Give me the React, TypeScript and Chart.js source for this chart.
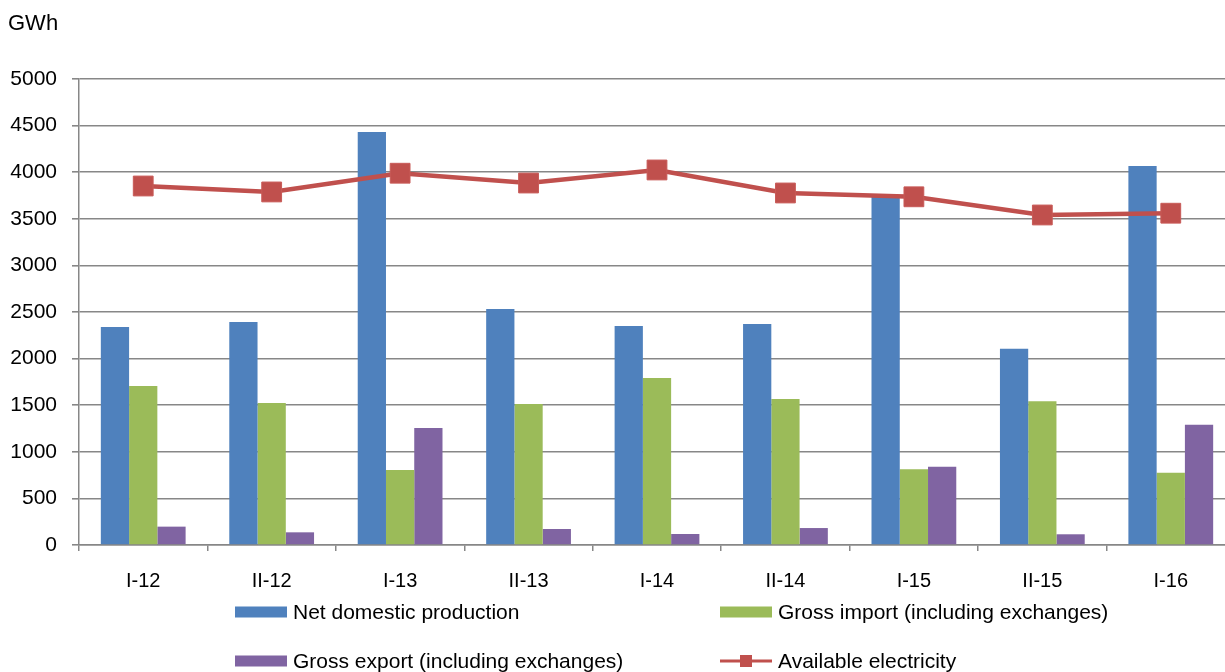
import React, { useEffect, useRef } from "react";
import { Chart, registerables } from "chart.js";

Chart.register(...registerables);

const categories = ["I-12", "II-12", "I-13", "II-13", "I-14", "II-14", "I-15", "II-15", "I-16"];
const netDomesticProduction = [2339, 2393, 4431, 2532, 2350, 2371, 3734, 2106, 4066];
const grossImport = [1706, 1524, 805, 1513, 1792, 1567, 812, 1542, 776];
const grossExport = [197, 136, 1255, 172, 118, 182, 840, 115, 1291];
const availableElectricity = [3852, 3788, 3989, 3884, 4024, 3777, 3736, 3541, 3560];
const yTickValues = [0, 500, 1000, 1500, 2000, 2500, 3000, 3500, 4000, 4500, 5000];
const unitLabel = "GWh";
const seriesNames = [
  "Net domestic production",
  "Gross import (including exchanges)",
  "Gross export (including exchanges)",
  "Available electricity",
];

const FONT = "'Liberation Sans', Arial, sans-serif";
const GRID = "#878787";

const legendPlugin = {
  id: "customLegend",
  afterDraw(chart: any) {
    const ctx = chart.ctx;
    const cols = [235, 720];
    const rows = [612, 661];
    ctx.save();
    chart.data.datasets.forEach((d: any, i: number) => {
      const x = cols[i % 2];
      const y = rows[Math.floor(i / 2)];
      if (d.type === "line") {
        ctx.strokeStyle = d.borderColor;
        ctx.lineWidth = 3;
        ctx.beginPath();
        ctx.moveTo(x, y);
        ctx.lineTo(x + 52, y);
        ctx.stroke();
        ctx.fillStyle = d.backgroundColor;
        ctx.fillRect(x + 26 - 6, y - 6, 12, 12);
      } else {
        ctx.fillStyle = d.backgroundColor;
        ctx.fillRect(x, y - 5.5, 52, 11);
      }
      ctx.fillStyle = "#000";
      ctx.font = `21px ${FONT}`;
      ctx.textBaseline = "middle";
      ctx.textAlign = "left";
      ctx.fillText(d.label, x + 58, y + 1);
    });
    ctx.font = `22px ${FONT}`;
    ctx.textBaseline = "middle";
    ctx.fillStyle = "#000";
    ctx.fillText(unitLabel, 8, 24);
    ctx.restore();
  },
};

export default function App() {
  const canvasRef = useRef<HTMLCanvasElement | null>(null);

  useEffect(() => {
    const canvas = canvasRef.current;
    if (!canvas) return;
    const chart = new Chart(canvas, {
      type: "bar",
      data: {
        labels: categories,
        datasets: [
          {
            type: "bar",
            label: seriesNames[0],
            data: netDomesticProduction,
            backgroundColor: "#4F81BD",
            order: 1,
          },
          {
            type: "bar",
            label: seriesNames[1],
            data: grossImport,
            backgroundColor: "#9BBB59",
            order: 1,
          },
          {
            type: "bar",
            label: seriesNames[2],
            data: grossExport,
            backgroundColor: "#8064A2",
            order: 1,
          },
          {
            type: "line",
            label: seriesNames[3],
            data: availableElectricity,
            borderColor: "#C0504D",
            backgroundColor: "#C0504D",
            borderWidth: 4.5,
            pointStyle: "rect",
            pointRadius: 14,
            pointBackgroundColor: "#C0504D",
            pointBorderColor: "#C85A57",
            pointBorderWidth: 1,
            tension: 0,
            order: 0,
          } as any,
        ],
      },
      options: {
        responsive: false,
        animation: false,
        devicePixelRatio: 1,
        layout: { padding: { top: 79, left: 0, right: 0, bottom: 77 } },
        datasets: {
          bar: { categoryPercentage: 0.66, barPercentage: 1 },
        },
        plugins: {
          legend: { display: false },
          title: { display: false },
          tooltip: { enabled: false },
        },
        scales: {
          x: {
            offset: true,
            grid: {
              offset: true,
              drawOnChartArea: false,
              drawTicks: true,
              tickLength: 6,
              color: GRID,
              lineWidth: 1.5,
            },
            border: { display: true, color: GRID, width: 1.5 },
            ticks: {
              color: "#000",
              padding: 18,
              font: { family: FONT, size: 20 },
              maxRotation: 0,
            },
            afterFit: (s: any) => {
              s.height = 50;
            },
          },
          y: {
            min: 0,
            max: 5000,
            afterBuildTicks: (s: any) => {
              s.ticks = yTickValues.map((v) => ({ value: v }));
            },
            grid: {
              color: GRID,
              lineWidth: 1.6,
              drawTicks: true,
              tickLength: 7,
            },
            border: { display: true, color: GRID, width: 1.5 },
            ticks: {
              color: "#000",
              padding: 15,
              font: { family: FONT, size: 21 },
              callback: (v: any) => String(v),
            },
            afterFit: (s: any) => {
              s.width = 79;
            },
          },
        },
      },
      plugins: [legendPlugin],
    });
    return () => chart.destroy();
  }, []);

  return (
    <div
      style={{
        position: "absolute",
        left: 0,
        top: 0,
        width: 1225,
        height: 672,
        overflow: "hidden",
        background: "#fff",
      }}
    >
      <canvas ref={canvasRef} width={1250} height={672} style={{ display: "block" }} />
    </div>
  );
}
